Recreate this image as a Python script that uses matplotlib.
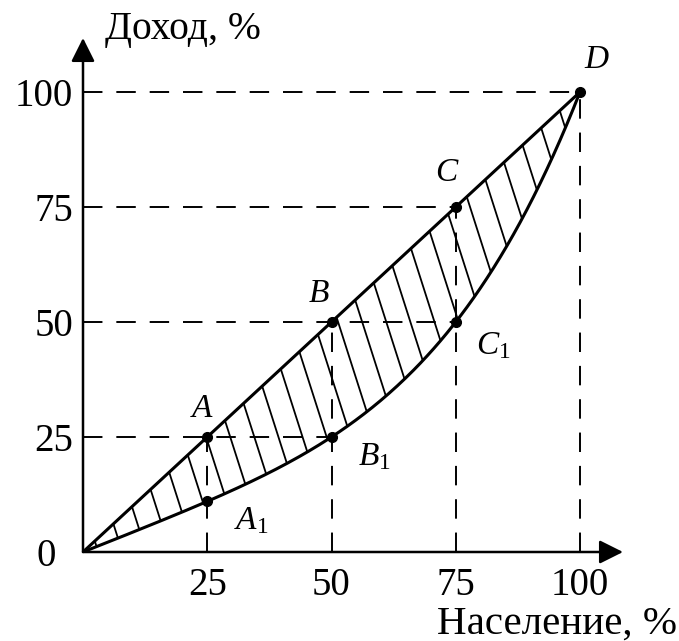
import matplotlib
matplotlib.use('Agg')
import matplotlib.pyplot as plt
import numpy as np

# data
pop = [0, 25, 50, 75, 100]          # население, %
equal = [0, 25, 50, 75, 100]        # линия равенства (A, B, C, D)
actual = [0, 11, 25, 50, 100]       # кривая Лоренца (A1, B1, C1, D)
eq_names = ['A', 'B', 'C', 'D']
act_names = ['$A_\\mathrm{1}$', '$B_\\mathrm{1}$', '$C_\\mathrm{1}$']
ticks = [25, 50, 75, 100]

plt.rcParams['font.family'] = ['Liberation Serif', 'DejaVu Serif']
plt.rcParams['mathtext.fontset'] = 'custom'
plt.rcParams['mathtext.rm'] = 'Liberation Serif'
plt.rcParams['mathtext.it'] = 'Liberation Serif:italic'
plt.rcParams['lines.scale_dashes'] = False

W, H = 679, 641
fig = plt.figure(figsize=(W/100, H/100), dpi=100)
x0, y0, x1, y1 = 83, 552, 623, 38
ax = fig.add_axes([x0/W, 1-y0/H, (x1-x0)/W, (y0-y1)/H])
xmax = (x1-x0)/4.97
ymax = (y0-y1)/4.6
ax.set_xlim(0, xmax)
ax.set_ylim(0, ymax)
for s in ax.spines.values():
    s.set_visible(False)

# axes with arrows
arr = dict(arrowstyle='-|>,head_length=0.6,head_width=0.3', lw=1.8, color='k',
           mutation_scale=24, shrinkA=0, shrinkB=0)
ax.annotate('', xy=(xmax, 0), xytext=(0, 0), annotation_clip=False, arrowprops=arr)
ax.annotate('', xy=(0, ymax), xytext=(0, 0), annotation_clip=False, arrowprops=arr)

ax.set_xticks(ticks)
ax.set_yticks(ticks)
ax.tick_params(length=0, labelsize=28)
ax.tick_params(axis='x', pad=11)
ax.tick_params(axis='y', pad=7)
fig.text(46/W, 1-556/H, '0', fontsize=28, ha='center', va='center')
fig.text(105/W, 1-30/H, 'Доход, %', fontsize=28.5, ha='left', va='center')
fig.text(437/W, 1-624/H, 'Население, %', fontsize=29.5, ha='left', va='center')

dash = dict(color='k', lw=1.4, dashes=(14, 10), zorder=1)
# vertical guides up to the equality line
for xv, yv in zip(pop[1:], equal[1:]):
    ax.plot([xv, xv], [0, yv], **dash)
# horizontal guides out to the farthest point at that level
for lev in ticks:
    xe = max([p for p, a in zip(pop, actual) if a == lev] + [p for p, e in zip(pop, equal) if e == lev])
    ax.plot([0, xe], [lev, lev], **dash)

# smooth lorenz curve through the read points
coef = np.polyfit(pop, actual, 4)
xs = np.linspace(0, 100, 300)
ys = np.polyval(coef, xs)
ye = np.interp(xs, pop, equal)

poly = ax.fill_between(xs, ys, ye, facecolor='none', lw=0)
clip = poly.get_paths()[0]
k = 0.296
for xh in np.arange(-30, 110, 4.85):
    ln, = ax.plot([xh, xh + k*ymax], [ymax, 0], color='k', lw=1.3, zorder=2)
    ln.set_clip_path(clip, ax.transData)

ax.plot(pop, equal, color='k', lw=2.2, zorder=3, solid_capstyle='round')
ax.plot(xs, ys, color='k', lw=2.2, zorder=3)
ax.plot(pop[1:], equal[1:], 'o', color='k', ms=7, zorder=4, clip_on=False)
ax.plot(pop[1:4], actual[1:4], 'o', color='k', ms=7, zorder=4)

eq_off = [(-4, 20), (-9, 20), (-7, 25), (12, 23)]
for nm, xv, yv, off in zip(eq_names, pop[1:], equal[1:], eq_off):
    ax.annotate(nm, (xv, yv), xytext=off, textcoords='offset points', ha='center', va='center',
                fontsize=24, style='italic', annotation_clip=False)
act_off = [(32, -14), (31, -14), (27, -17)]
for nm, xv, yv, off in zip(act_names, pop[1:4], actual[1:4], act_off):
    ax.annotate(nm, (xv, yv), xytext=off, textcoords='offset points', ha='center', va='center',
                fontsize=24)

fig.savefig('out.png', dpi=100)
